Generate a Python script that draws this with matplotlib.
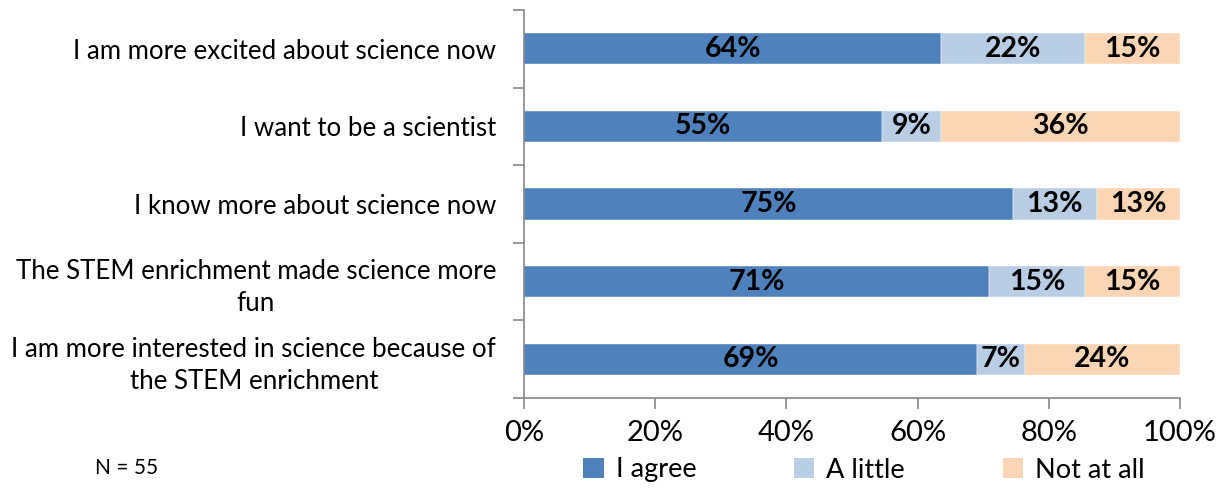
import matplotlib
matplotlib.use("Agg")
import matplotlib.pyplot as plt
import numpy as np
from matplotlib.patches import Patch

plt.rcParams['font.family'] = ['Lato', 'DejaVu Sans']

categories = [
    "I am more excited about science now",
    "I want to be a scientist",
    "I know more about science now",
    "The STEM enrichment made science more\nfun",
    "I am more interested in science because of\nthe STEM enrichment",
]
series_names = ["I agree", "A little", "Not at all"]
agree = [63.64, 54.55, 74.55, 70.91, 69.09]
little = [21.82, 9.09, 12.73, 14.55, 7.27]
notatall = [14.55, 36.36, 12.73, 14.55, 23.64]
xtick_labels = ["0%", "20%", "40%", "60%", "80%", "100%"]
note = "N = 55"

colors = ["#4F81BD", "#B9CDE5", "#FCD5B5"]
axis_color = "#868686"

fig = plt.figure(figsize=(12.25, 4.95), dpi=100)
ax = fig.add_axes([524/1225, 97/495, 656/1225, 388/495])

y = np.arange(len(categories))
left = np.zeros(len(categories))
for vals, name, col in zip([agree, little, notatall], series_names, colors):
    vals = np.array(vals)
    ax.barh(y, vals, left=left, height=0.4, color=col, label=name,
            edgecolor='white', linewidth=0.3)
    for yi, l, v in zip(y, left, vals):
        ax.text(l + v/2, yi, f"{v:.0f}%", ha='center', va='center',
                fontsize=20.5, fontweight='bold', color='black')
    left = left + vals

ax.set_xlim(0, 100)
ax.set_ylim(len(categories) - 0.5, -0.5)

ax.set_xticks(np.linspace(0, 100, 6))
ax.set_xticklabels(xtick_labels, fontsize=21)
ax.tick_params(axis='x', direction='out', length=8, width=1.2, color=axis_color, pad=8)

ax.set_yticks(np.arange(-0.5, len(categories)))
ax.set_yticklabels([])
ax.tick_params(axis='y', which='major', direction='out', length=8, width=1.2, color=axis_color)
ax.set_yticks(y, minor=True)
ax.set_yticklabels(categories, minor=True, fontsize=18.6, multialignment='center',
                   linespacing=1.35)
ax.tick_params(axis='y', which='minor', length=0, pad=20)

for s in ['top', 'right']:
    ax.spines[s].set_visible(False)
for s in ['left', 'bottom']:
    ax.spines[s].set_color(axis_color)
    ax.spines[s].set_linewidth(1.2)

handles = [Patch(facecolor=c, edgecolor='none') for c in colors]
fig.legend(handles, series_names, loc='center', bbox_to_anchor=(864/1225, 25/495),
           ncol=3, frameon=False, fontsize=19.5, handlelength=0.75, handleheight=0.75,
           handletextpad=0.45, columnspacing=3.6)

fig.text(95/1225, 27/495, note, fontsize=15, va='center', ha='left')

fig.savefig("out.png", dpi=100)
